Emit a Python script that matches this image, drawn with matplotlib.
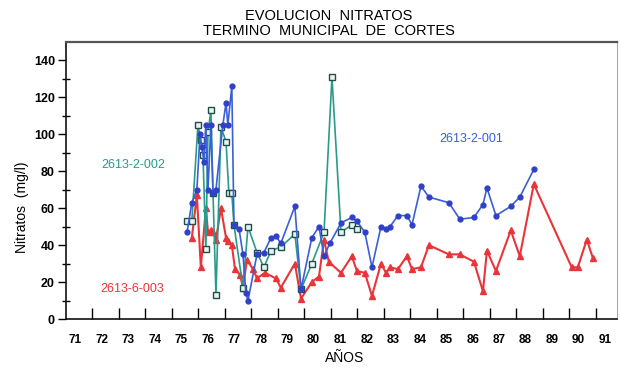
import matplotlib
matplotlib.use("Agg")
import matplotlib.pyplot as plt

# ---- data (decimal years on the chart's year axis, nitrate mg/l) ----
blue_x = [75.57, 75.75, 75.94, 76.06, 76.13, 76.21, 76.28, 76.36, 76.47, 76.55,
          76.66, 76.92, 77.04, 77.11, 77.26, 77.34, 77.53, 77.68, 77.79, 77.87,
          78.21, 78.47, 78.74, 78.92, 79.11, 79.64, 79.87, 80.28, 80.55, 80.74,
          80.96, 81.38, 81.79, 81.98, 82.28, 82.55, 82.89, 83.08, 83.23, 83.53,
          83.87, 84.06, 84.40, 84.70, 85.45, 85.87, 86.40, 86.74, 86.89, 87.23,
          87.79, 88.13, 88.66]
blue_y = [47, 63, 70, 100, 93, 85, 105, 70, 105, 68,
          70, 105, 117, 105, 126, 51, 49, 35, 14, 10,
          35, 36, 44, 45, 41, 61, 16, 44, 50, 34,
          41, 52, 55, 53, 47, 28, 50, 49, 50, 56,
          56, 51, 72, 66, 63, 54, 55, 62, 71, 56,
          61, 66, 81]

teal_x = [75.57, 75.75, 75.98, 76.09, 76.17, 76.28, 76.36, 76.47, 76.55, 76.66,
          76.85, 77.04, 77.15, 77.26, 77.34, 77.68, 77.87, 78.21, 78.47, 78.74,
          79.11, 79.64, 79.87, 80.28, 80.74, 81.04, 81.38, 81.79, 81.98]
teal_y = [53, 53, 105, 97, 89, 38, 101, 113, 68, 13,
          104, 96, 68, 68, 51, 17, 50, 36, 28, 37,
          39, 46, 16, 30, 47, 131, 47, 51, 49]

red_x = [75.75, 75.94, 76.09, 76.28, 76.36, 76.47, 76.55, 76.66, 76.85, 77.04,
         77.11, 77.26, 77.38, 77.57, 77.68, 77.83, 78.06, 78.21, 78.51, 78.92,
         79.11, 79.64, 79.87, 80.28, 80.55, 80.74, 80.92, 81.38, 81.79, 81.98,
         82.28, 82.55, 82.89, 83.08, 83.23, 83.53, 83.87, 84.06, 84.40, 84.70,
         85.45, 85.87, 86.40, 86.74, 86.89, 87.23, 87.79, 88.13, 88.66, 90.09,
         90.32, 90.66, 90.89]
red_y = [44, 67, 28, 60, 47, 48, 47, 43, 60, 44,
         42, 40, 27, 24, 17, 32, 27, 22, 25, 22,
         17, 30, 11, 20, 23, 43, 31, 25, 34, 26,
         25, 12.5, 30, 25, 28, 27, 34, 27, 28, 40,
         35, 35, 31, 15, 37, 26, 48, 34, 73, 28,
         28, 43, 33]

year_labels = [str(y) for y in range(71, 92)]
year_ticks = list(range(72, 92))
y_major = [0, 20, 40, 60, 80, 100, 120, 140]
y_minor = [10, 30, 50, 70, 90, 110, 130]

series_names = ["2613-2-001", "2613-2-002", "2613-6-003"]

BLUE = "#3b5fd6"
TEAL = "#2a9a8c"
RED = "#e8353a"

plt.rcParams['font.family'] = ['Liberation Sans Narrow', 'Liberation Sans', 'DejaVu Sans']

fig = plt.figure(figsize=(6.21, 3.71), dpi=100)
ax = fig.add_axes([66/621, 1-319/371, (617-66)/621, (319-42)/371])

ax.plot(teal_x, teal_y, color=TEAL, lw=1.2, marker='s', ms=4, mfc='#e8f4f0',
        mec='#1f4f4a', mew=1.0, zorder=3)
ax.plot(blue_x, blue_y, color=BLUE, lw=1.2, marker='o', ms=3.5, mfc='#3040c8',
        mec='#3040c8', zorder=4)
ax.plot(red_x, red_y, color=RED, lw=1.5, marker='^', ms=5, mfc=RED, mec=RED, zorder=2)

ax.set_xlim(71, 91.8)
ax.set_ylim(0, 150)

ax.set_xticks(year_ticks)
ax.set_xticklabels([])
ax.tick_params(axis='x', which='major', direction='in', length=8, width=1.0)
ax.set_xticks([int(l) + 0.35 for l in year_labels], labels=year_labels, minor=True)
ax.tick_params(axis='x', which='minor', length=0, pad=11, labelsize=8.5)
for t in ax.get_xticklabels(minor=True):
    t.set_fontweight('bold')

ax.set_yticks(y_major)
ax.set_yticks(y_minor, minor=True)
ax.tick_params(axis='y', which='major', direction='out', length=6, width=1.0,
               pad=2, labelsize=9)
ax.tick_params(axis='y', which='minor', direction='inout', length=6, width=1.0)
for t in ax.get_yticklabels():
    t.set_fontweight('bold')

for s in ['left', 'bottom']:
    ax.spines[s].set_linewidth(1.2)
    ax.spines[s].set_color('#111111')
ax.spines['top'].set_linewidth(1.6)
ax.spines['top'].set_color('#555555')
ax.spines['right'].set_linewidth(0.8)
ax.spines['right'].set_color('#aaaaaa')

fig.text(0.53, 1-16/371, "EVOLUCION  NITRATOS", ha='center', va='center', fontsize=10.5)
fig.text(0.53, 1-31/371, "TERMINO  MUNICIPAL  DE  CORTES", ha='center', va='center', fontsize=10.5)
fig.text(345/621, 1-358/371, "AÑOS", ha='center', va='center', fontsize=10)
fig.text(22/621, 1-207/371, "Nitratos  (mg/l)", ha='center', va='center',
         rotation=90, fontsize=10)

ax.text(86.28, 97.7, series_names[0], color=BLUE, ha='center', va='center', fontsize=9)
ax.text(73.53, 83.6, series_names[1], color=TEAL, ha='center', va='center', fontsize=9)
ax.text(73.49, 16.3, series_names[2], color=RED, ha='center', va='center', fontsize=9)

fig.savefig("out.png", dpi=100)
